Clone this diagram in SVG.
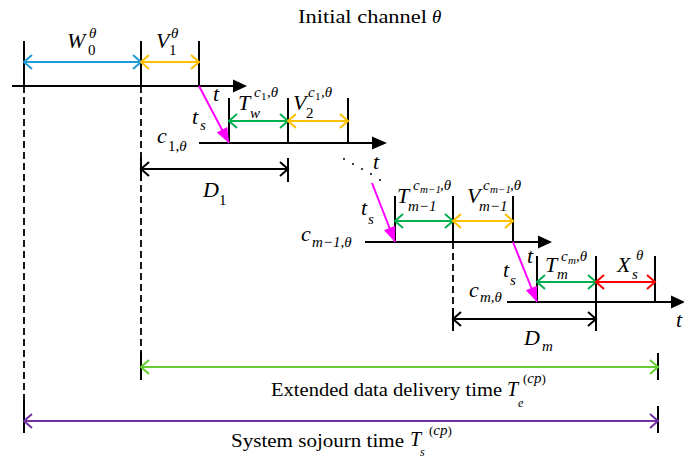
<svg xmlns="http://www.w3.org/2000/svg" width="684" height="459" viewBox="0 0 684 459" font-family="Liberation Serif, DejaVu Serif, serif">
<defs>
<style>
text{fill:#000}
.mi{font-style:italic;font-size:22px}
.si{font-style:italic;font-size:15px}
.sn{font-size:15px}
.ssi{font-style:italic;font-size:11px}
.ssn{font-size:11px}
.big{font-size:18px}
.ttl{font-size:19px}
.ax{stroke:#000;stroke-width:2;fill:none}
.tk{stroke:#000;stroke-width:2}
.dash{stroke:#000;stroke-width:1.8;stroke-dasharray:7 4}
.iv{stroke-width:2;fill:none}
.blue{stroke:#1E9BD7}
.orange{stroke:#FFC000}
.green{stroke:#00B050}
.red{stroke:#FF0000}
.lgreen{stroke:#66CC33}
.purple{stroke:#7030A0}
.black{stroke:#000}
.mag{stroke:#FF00FF;stroke-width:2}
</style>
<marker id="chB" viewBox="-10 -9 12 18" markerWidth="12" markerHeight="18" refX="0" refY="0" orient="auto-start-reverse" markerUnits="userSpaceOnUse" overflow="visible"><path d="M-8,-7 L0,0 L-8,7" fill="none" stroke="#1E9BD7" stroke-width="2"/></marker>
<marker id="chO" viewBox="-10 -9 12 18" markerWidth="12" markerHeight="18" refX="0" refY="0" orient="auto-start-reverse" markerUnits="userSpaceOnUse" overflow="visible"><path d="M-8,-7 L0,0 L-8,7" fill="none" stroke="#FFC000" stroke-width="2"/></marker>
<marker id="chG" viewBox="-10 -9 12 18" markerWidth="12" markerHeight="18" refX="0" refY="0" orient="auto-start-reverse" markerUnits="userSpaceOnUse" overflow="visible"><path d="M-8,-7 L0,0 L-8,7" fill="none" stroke="#00B050" stroke-width="2"/></marker>
<marker id="chR" viewBox="-10 -9 12 18" markerWidth="12" markerHeight="18" refX="0" refY="0" orient="auto-start-reverse" markerUnits="userSpaceOnUse" overflow="visible"><path d="M-8,-7 L0,0 L-8,7" fill="none" stroke="#FF0000" stroke-width="2"/></marker>
<marker id="chL" viewBox="-10 -9 12 18" markerWidth="12" markerHeight="18" refX="0" refY="0" orient="auto-start-reverse" markerUnits="userSpaceOnUse" overflow="visible"><path d="M-8,-7 L0,0 L-8,7" fill="none" stroke="#66CC33" stroke-width="2"/></marker>
<marker id="chP" viewBox="-10 -9 12 18" markerWidth="12" markerHeight="18" refX="0" refY="0" orient="auto-start-reverse" markerUnits="userSpaceOnUse" overflow="visible"><path d="M-8,-7 L0,0 L-8,7" fill="none" stroke="#7030A0" stroke-width="2"/></marker>
<marker id="chK" viewBox="-10 -9 12 18" markerWidth="12" markerHeight="18" refX="0" refY="0" orient="auto-start-reverse" markerUnits="userSpaceOnUse" overflow="visible"><path d="M-8,-7 L0,0 L-8,7" fill="none" stroke="#000" stroke-width="2"/></marker>
<marker id="triM" viewBox="-16 -7 17 14" markerWidth="17" markerHeight="14" refX="0" refY="0" orient="auto" markerUnits="userSpaceOnUse" overflow="visible"><path d="M-15,-6 L0,0 L-15,6 Z" fill="#FF00FF"/></marker>
</defs>

<rect x="0" y="0" width="684" height="459" fill="#fff"/>

<text class="ttl" x="298" y="23" textLength="129" lengthAdjust="spacingAndGlyphs">Initial channel</text>
<text class="mi" x="432" y="23" style="font-size:19px">θ</text>

<g id="guides">
<line class="dash" x1="24" y1="86" x2="24" y2="400"/>
<line class="dash" x1="141" y1="86" x2="141" y2="352"/>
<line class="dash" x1="453" y1="242" x2="453" y2="310"/>
</g>

<g id="timeline-initial">
<line class="ax" x1="12" y1="86" x2="234" y2="86"/>
<polygon points="233,79.5 247,86 233,92.5" fill="#000"/>
<line class="tk" x1="24" y1="41" x2="24" y2="87"/>
<line class="tk" x1="141" y1="41" x2="141" y2="87"/>
<line class="tk" x1="199" y1="41" x2="199" y2="87"/>
<text class="mi" x="213" y="101">t</text>
</g>

<g id="timeline-c1">
<line class="ax" x1="199" y1="143" x2="373" y2="143"/>
<polygon points="372,136.5 387,143 372,149.5" fill="#000"/>
<line class="tk" x1="229" y1="98" x2="229" y2="144"/>
<line class="tk" x1="288" y1="98" x2="288" y2="144"/>
<line class="tk" x1="348" y1="98" x2="348" y2="144"/>
<text class="mi" x="157" y="143">c</text><text class="sn" x="168" y="151">1,<tspan class="si">θ</tspan></text>
</g>

<g id="dots">
<circle cx="344" cy="159" r="1" fill="#000"/>
<circle cx="353" cy="164" r="1" fill="#000"/>
<circle cx="362" cy="169" r="1" fill="#000"/>
<circle cx="371" cy="174" r="1" fill="#000"/>
<circle cx="380" cy="180" r="1" fill="#000"/>
<text class="mi" x="373" y="169">t</text>
</g>

<g id="timeline-cm1">
<line class="ax" x1="365" y1="242" x2="539" y2="242"/>
<polygon points="538,235.5 552,242 538,248.5" fill="#000"/>
<line class="tk" x1="395" y1="196" x2="395" y2="243"/>
<line class="tk" x1="453" y1="196" x2="453" y2="243"/>
<line class="tk" x1="513" y1="196" x2="513" y2="243"/>
<text class="mi" x="301" y="241">c</text><text class="si" x="312" y="247">m<tspan class="sn">−1,</tspan>θ</text>
</g>

<g id="timeline-cm">
<line class="ax" x1="507" y1="302" x2="672" y2="302"/>
<polygon points="671,295.5 685,302 671,308.5" fill="#000"/>
<line class="tk" x1="537" y1="256" x2="537" y2="303"/>
<line class="tk" x1="596" y1="256" x2="596" y2="331"/>
<line class="tk" x1="655" y1="256" x2="655" y2="303"/>
<text class="mi" x="469" y="297">c</text><text class="si" x="480" y="302">m<tspan class="sn">,</tspan>θ</text>
<text class="mi" x="676" y="327">t</text>
</g>

<g id="connectors">
<line class="mag" x1="199" y1="86" x2="229" y2="143" marker-end="url(#triM)"/>
<line class="mag" x1="372" y1="183" x2="395" y2="242" marker-end="url(#triM)"/>
<line class="mag" x1="513" y1="242" x2="537" y2="302" marker-end="url(#triM)"/>
<line class="iv blue" x1="24" y1="62" x2="141" y2="62" marker-start="url(#chB)" marker-end="url(#chB)"/>
<line class="iv orange" x1="141" y1="62" x2="199" y2="62" marker-start="url(#chO)" marker-end="url(#chO)"/>
<line class="iv green" x1="229" y1="121" x2="288" y2="121" marker-start="url(#chG)" marker-end="url(#chG)"/>
<line class="iv orange" x1="288" y1="121" x2="348" y2="121" marker-start="url(#chO)" marker-end="url(#chO)"/>
<line class="iv green" x1="395" y1="221" x2="453" y2="221" marker-start="url(#chG)" marker-end="url(#chG)"/>
<line class="iv orange" x1="453" y1="221" x2="513" y2="221" marker-start="url(#chO)" marker-end="url(#chO)"/>
<line class="iv green" x1="537" y1="282" x2="596" y2="282" marker-start="url(#chG)" marker-end="url(#chG)"/>
<line class="iv red" x1="596" y1="282" x2="655" y2="282" marker-start="url(#chR)" marker-end="url(#chR)"/>
<line class="tk" x1="141" y1="157" x2="141" y2="181"/>
<line class="tk" x1="288" y1="158" x2="288" y2="182"/>
<line class="iv black" x1="141" y1="169" x2="288" y2="169" marker-start="url(#chK)" marker-end="url(#chK)"/>
<line class="tk" x1="453" y1="308" x2="453" y2="331"/>
<line class="iv black" x1="453" y1="319" x2="596" y2="319" marker-start="url(#chK)" marker-end="url(#chK)"/>
<line class="tk" x1="141" y1="352" x2="141" y2="380"/>
<line class="tk" x1="658" y1="353" x2="658" y2="380"/>
<line class="iv lgreen" x1="141" y1="367" x2="658" y2="367" marker-start="url(#chL)" marker-end="url(#chL)"/>
<line class="tk" x1="24" y1="400" x2="24" y2="433"/>
<line class="tk" x1="658" y1="406" x2="658" y2="433"/>
<line class="iv purple" x1="24" y1="421" x2="658" y2="421" marker-start="url(#chP)" marker-end="url(#chP)"/>
</g>

<g id="labels">
<text class="mi" x="67" y="48">W</text><text class="si" x="89" y="38">θ</text><text class="sn" x="88" y="55">0</text>
<text class="mi" x="156" y="48">V</text><text class="si" x="171" y="38">θ</text><text class="sn" x="169" y="55">1</text>
<text class="mi" x="192" y="124">t</text><text class="si" x="200" y="130">s</text>
<text class="mi" x="238" y="110">T</text><text class="si" x="254" y="97">c</text><text class="ssn" x="261" y="100">1</text><text class="si" x="267" y="97">,θ</text><text class="si" x="250" y="118">w</text>
<text class="mi" x="293" y="110">V</text><text class="si" x="308" y="97">c</text><text class="ssn" x="315" y="100">1</text><text class="si" x="321" y="97">,θ</text><text class="sn" x="306" y="118">2</text>
<text class="mi" x="203" y="197">D</text><text class="sn" x="219" y="205">1</text>
<text class="mi" x="361" y="215">t</text><text class="si" x="368" y="224">s</text>
<text class="mi" x="397" y="203">T</text><text class="si" x="413" y="190">c</text><text class="ssi" x="420" y="193">m<tspan class="ssn">−1</tspan></text><text class="si" x="440" y="190">,θ</text><text class="si" x="408" y="211">m<tspan class="sn">−1</tspan></text>
<text class="mi" x="467" y="203">V</text><text class="si" x="483" y="190">c</text><text class="ssi" x="490" y="193">m<tspan class="ssn">−1</tspan></text><text class="si" x="510" y="190">,θ</text><text class="si" x="479" y="211">m<tspan class="sn">−1</tspan></text>
<text class="mi" x="527" y="263">t</text>
<text class="mi" x="503" y="277">t</text><text class="si" x="510" y="285">s</text>
<text class="mi" x="545" y="272">T</text><text class="si" x="561" y="261">c</text><text class="ssi" x="568" y="264">m</text><text class="si" x="576" y="261">,θ</text><text class="si" x="557" y="279">m</text>
<text class="mi" x="617" y="272">X</text><text class="si" x="636" y="260">θ</text><text class="si" x="632" y="279">s</text>
<text class="mi" x="524" y="345">D</text><text class="si" x="542" y="351">m</text>
<text class="big" x="271" y="396" textLength="231" lengthAdjust="spacingAndGlyphs">Extended data delivery time</text>
<text class="mi" x="507" y="396" style="font-size:20px">T</text><text class="si" x="518" y="407" style="font-size:12px">e</text><text class="sn" x="523" y="383" style="font-size:13px">(<tspan class="si">cp</tspan>)</text>
<text class="big" x="231" y="447" textLength="173" lengthAdjust="spacingAndGlyphs">System sojourn time</text>
<text class="mi" x="410" y="446" style="font-size:20px">T</text><text class="si" x="420" y="456" style="font-size:12px">s</text><text class="sn" x="429" y="435" style="font-size:13px">(<tspan class="si">cp</tspan>)</text>
</g>
</svg>
